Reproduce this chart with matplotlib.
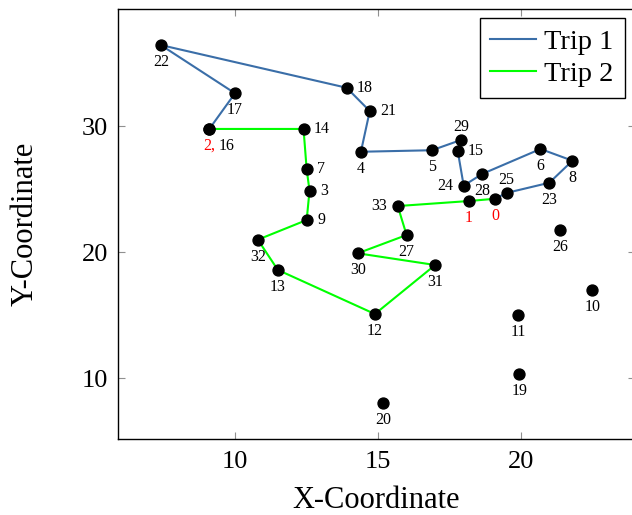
import matplotlib.pyplot as plt

# coordinates, index = node id
node_x = [19.10, 18.19, 9.09, 12.60, 14.40, 16.89, 20.69, 12.50, 21.81, 12.50,
          22.51, 19.90, 14.89, 11.49, 12.39, 17.79, 9.09, 9.99, 13.90, 19.95,
          15.19, 14.71, 7.39, 21.00, 18.00, 19.50, 21.39, 16.00, 18.64, 17.90,
          14.29, 17.00, 10.79, 15.69]
node_y = [24.25, 24.07, 29.79, 24.89, 27.98, 28.10, 28.20, 26.59, 27.27, 22.56,
          17.01, 15.00, 15.10, 18.60, 29.79, 28.06, 29.79, 32.62, 33.06, 10.32,
          8.02, 31.21, 36.45, 25.52, 25.29, 24.71, 21.79, 21.37, 26.21, 28.91,
          19.92, 18.99, 21.00, 23.67]
depots = [0, 1, 2]

trip1 = [0, 25, 23, 8, 6, 28, 24, 15, 29, 5, 4, 21, 18, 22, 17, 16]
trip2 = [2, 14, 7, 3, 9, 32, 13, 12, 31, 30, 27, 33, 1, 0]

# where each node label sits
label_side = {14: 'right', 18: 'right', 21: 'right', 7: 'right', 3: 'right',
              9: 'right', 15: 'right', 29: 'above', 25: 'above',
              33: 'left', 24: 'left'}

plt.rcParams['font.family'] = 'Liberation Serif'

fig = plt.figure(figsize=(6.32, 5.15), dpi=100)
ax = fig.add_axes([0.1862, 0.1476, 0.8185, 0.8344])

ax.plot([node_x[i] for i in trip1], [node_y[i] for i in trip1],
        color='#3a6ea8', lw=1.5, label='Trip 1', zorder=2)
ax.plot([node_x[i] for i in trip2], [node_y[i] for i in trip2],
        color='#00ff00', lw=1.5, label='Trip 2', zorder=2)
ax.scatter(node_x, node_y, s=62, color='black', zorder=3)

offsets = {'below': ((0, -6.5), 'center', 'top'),
           'right': ((7.5, 0), 'left', 'center'),
           'left': ((-7.5, 0), 'right', 'center'),
           'above': ((0, 6.5), 'center', 'baseline')}
for i in range(len(node_x)):
    if i in (2, 16):
        continue
    off, ha, va = offsets[label_side.get(i, 'below')]
    ax.annotate(str(i), (node_x[i], node_y[i]), xytext=off, textcoords='offset points',
                ha=ha, va=va, fontsize=11.5,
                color='red' if i in depots else 'black')
# depot 2 and customer 16 share a spot
ax.annotate('2,', (node_x[2], node_y[2]), xytext=(4.3, -6.5), textcoords='offset points',
            ha='right', va='top', fontsize=11.5, color='red')
ax.annotate('16', (node_x[16], node_y[16]), xytext=(6.5, -6.5), textcoords='offset points',
            ha='left', va='top', fontsize=11.5, color='black')

ax.set_xlim(5.88, 24.0)
ax.set_ylim(5.18, 39.29)
ax.set_xticks([10, 15, 20])
ax.set_yticks([10, 20, 30])
ax.tick_params(direction='in', length=5, width=0.8, color='#909090',
               top=True, right=True, labelsize=19)
ax.tick_params(axis='x', pad=9)
ax.tick_params(axis='y', pad=7)
for sp in ax.spines.values():
    sp.set_linewidth(1.0)

ax.set_xlabel('X-Coordinate', fontsize=22, labelpad=9)
ax.set_ylabel('Y-Coordinate', fontsize=22, labelpad=30)

leg = ax.legend(loc='upper right', bbox_to_anchor=(0.98, 0.979), borderaxespad=0,
                fontsize=20.5, fancybox=False, framealpha=1, edgecolor='black',
                handlelength=1.6, handletextpad=0.3, labelspacing=0.22,
                borderpad=0.38)
leg.get_frame().set_linewidth(1.0)

plt.savefig('out.png', dpi=100)
